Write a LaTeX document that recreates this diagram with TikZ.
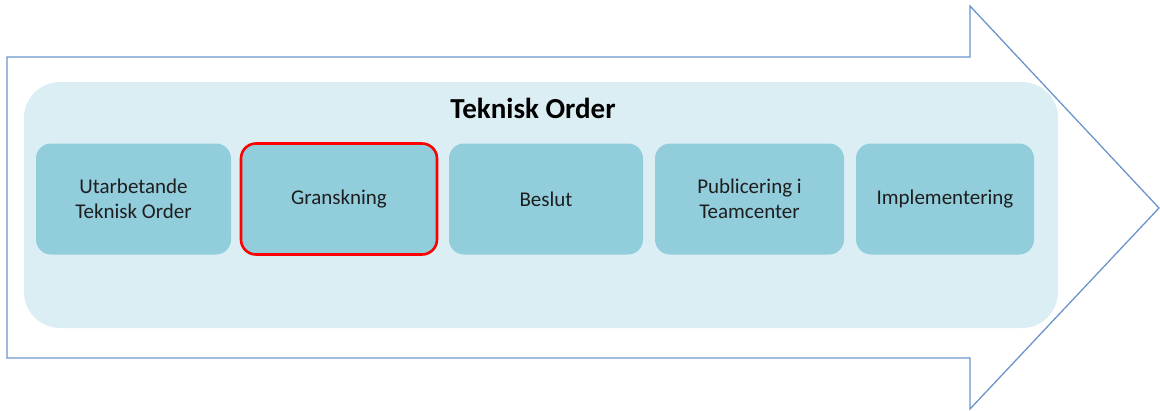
\documentclass[tikz,border=0pt]{standalone}
\usepackage{fontspec}
\setmainfont{Carlito}
\usetikzlibrary{positioning}
\definecolor{arrowblue}{HTML}{6A95CC}
\definecolor{panelblue}{HTML}{DBEEF3}
\definecolor{stepblue}{HTML}{92CDDC}
\definecolor{textgray}{HTML}{1E1E1E}

\begin{document}
\begin{tikzpicture}[x=1pt,y=-1pt,
        stepbox/.style = {
            fill=stepblue,
            rounded corners=15pt,
            minimum height=111pt,
            inner sep=0pt,
            outer sep=0pt,
            align=center,
            text=textgray,
            font=\fontsize{21}{25}\selectfont
        },node distance=12pt]

        \useasboundingbox (0,0) rectangle (1160,410);

        % big arrow
        \draw[arrowblue, line width=1.3pt] (7,57) -- (970,57) -- (970,6) -- (1159,208)
            -- (970,409) -- (970,358) -- (7,358) -- cycle;

        \node[fill=panelblue, rounded corners=36pt, minimum width=1034pt, minimum height=246pt, inner sep=0pt] (panel) at (541,205) {};
        \node[font=\fontsize{29}{33}\selectfont\bfseries] (title) at (533,108) {Teknisk Order};

        \node[stepbox, minimum width=195pt] (a) at (133.5,199) {Utarbetande\\Teknisk Order};
        \node[stepbox, minimum width=196pt, right=10pt of a, draw=red, line width=2.6pt] (b) {Granskning};
        \node[stepbox, minimum width=194pt, right=of b] (c) {Beslut};
        \node[stepbox, minimum width=189pt, right=of c] (d) {Publicering i\\Teamcenter};
        \node[stepbox, minimum width=178pt, right=of d] (e) {Implementering};
    \end{tikzpicture}
\end{document}
